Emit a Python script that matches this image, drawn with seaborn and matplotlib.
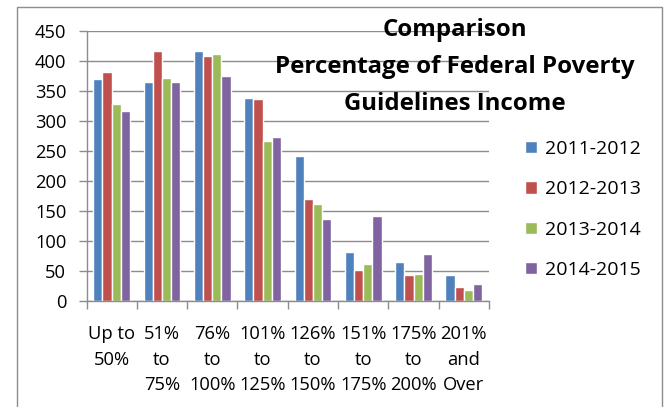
import matplotlib
matplotlib.use("Agg")
import matplotlib.pyplot as plt
import seaborn as sns
import pandas as pd
from matplotlib.patches import Rectangle

categories = ["Up to\n50%", "51%\nto\n75%", "76%\nto\n100%", "101%\nto\n125%",
              "126%\nto\n150%", "151%\nto\n175%", "175%\nto\n200%", "201%\nand\nOver"]
series_names = ["2011-2012", "2012-2013", "2013-2014", "2014-2015"]
v2011 = [370, 365, 417, 339, 242, 81, 65, 43]
v2012 = [381, 417, 409, 337, 170, 51, 43, 23]
v2013 = [328, 372, 412, 267, 162, 62, 45, 18]
v2014 = [317, 365, 375, 273, 137, 142, 79, 29]
colors = ["#4F81BD", "#C0504D", "#9BBB59", "#8064A2"]
title = "Comparison\nPercentage of Federal Poverty\nGuidelines Income"

rows = []
for name, vals in zip(series_names, [v2011, v2012, v2013, v2014]):
    for c, v in zip(categories, vals):
        rows.append({"cat": c, "series": name, "value": v})
df = pd.DataFrame(rows)

sns.set_theme(style="white")
plt.rcParams['font.family'] = ['Open Sans', 'DejaVu Sans']

fig = plt.figure(figsize=(6.65, 4.07), dpi=100)
ax = fig.add_axes([86.5/665, 1-301/407, (489-86.5)/665, 270/407])

sns.barplot(data=df, x="cat", y="value", hue="series", palette=colors,
            order=categories, hue_order=series_names, width=0.73,
            saturation=1, ax=ax, legend=True)

ax.set_ylim(0, 450)
ax.set_xlim(-0.5, 7.5)
ax.set_yticks(range(0, 451, 50))
ax.yaxis.grid(True, color="#8c8c8c", linewidth=1)
ax.set_axisbelow(True)
ax.set_xlabel("")
ax.set_ylabel("")
for s in ["top", "right"]:
    ax.spines[s].set_visible(False)
for s in ["left", "bottom"]:
    ax.spines[s].set_color("#8c8c8c")
    ax.spines[s].set_linewidth(1)

ax.set_xticks(range(8))
ax.set_xticklabels(categories, fontsize=13.2, linespacing=1.53)
ax.set_xticks([i - 0.5 for i in range(9)], minor=True)
ax.tick_params(axis="x", which="major", length=0, pad=17.5)
ax.tick_params(axis="x", which="minor", length=5.5, color="#8c8c8c", width=1, direction="out", bottom=True)
ax.tick_params(axis="y", length=5.5, color="#8c8c8c", width=1, direction="out", left=True, labelsize=13.2, pad=9)
for lab in ax.get_yticklabels() + ax.get_xticklabels():
    lab.set_color("black")

leg = ax.legend(loc="center left", bbox_to_anchor=(525/665, 1-209.5/407),
                bbox_transform=fig.transFigure, frameon=False,
                fontsize=14, handlelength=0.62, handleheight=0.62,
                labelspacing=1.15, handletextpad=0.42, borderpad=0, borderaxespad=0)
for t in leg.get_texts():
    t.set_color("black")

fig.text(455/665, 1-67/407, title, ha="center", va="center", fontsize=17.3,
         fontweight="bold", linespacing=1.72, color="black")

fig.patches.append(Rectangle((17/665, -0.01), (662-17)/665, 1-7/407+0.01,
                             transform=fig.transFigure, fill=False,
                             edgecolor="#8c8c8c", linewidth=1))

fig.savefig("out.png", dpi=100)
